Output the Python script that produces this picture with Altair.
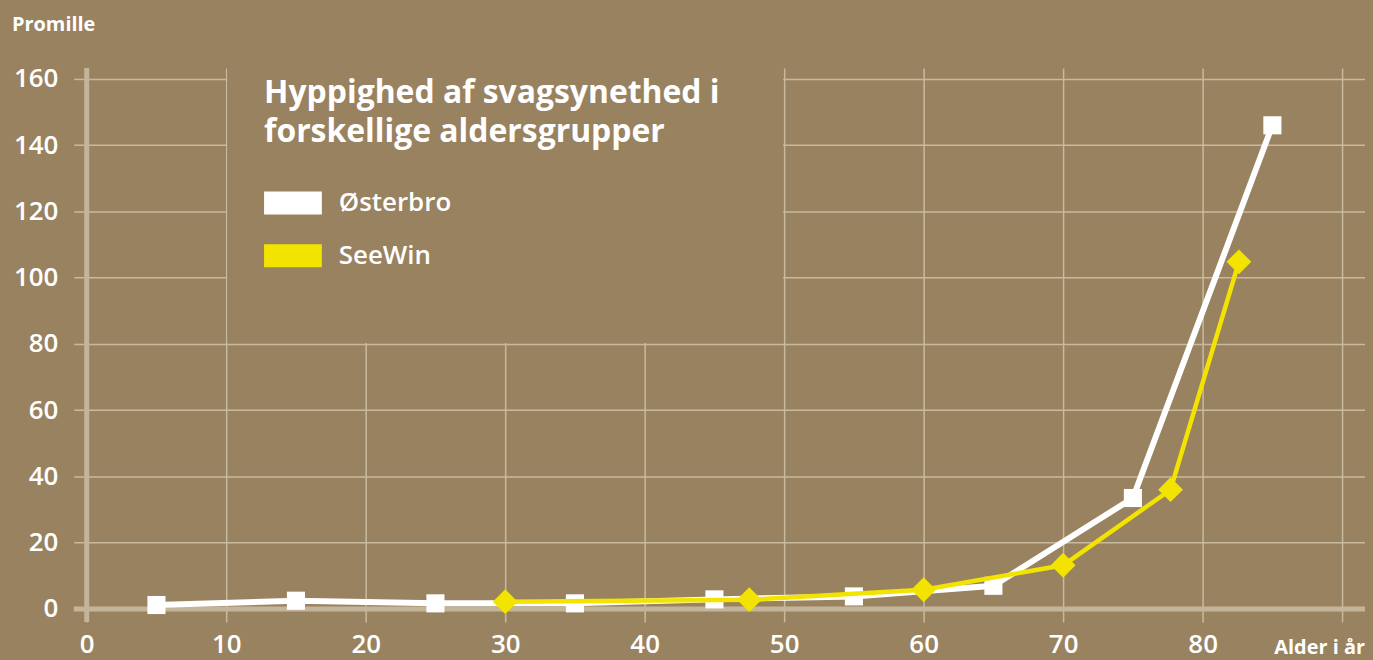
import altair as alt
import pandas as pd

# ---------------- data ----------------
ost_age = [5, 15, 25, 35, 45, 55, 65, 75, 85]
ost_val = [1.2, 2.5, 1.7, 1.7, 2.9, 3.8, 7.0, 33.5, 146]
see_age = [30, 47.5, 60, 70, 77.7, 82.6]
see_val = [2.2, 2.8, 5.8, 13.2, 36, 104.8]
series_names = ["Østerbro", "SeeWin"]
series_colors = ["#ffffff", "#f2e400"]
x_ticks = [0, 10, 20, 30, 40, 50, 60, 70, 80, 90]
y_ticks = [0, 20, 40, 60, 80, 100, 120, 140, 160]
title_lines = ["Hyppighed af svagsynethed i", "forskellige aldersgrupper"]
y_title = "Promille"
x_title = "Alder i år"

# ---------------- style ----------------
BG = "#99825f"
GRID = "#c8ba9f"
AXIS = "#c4b59a"
FONT = "Open Sans"
W, H = 1283, 543

df_ost = pd.DataFrame({"age": ost_age, "val": ost_val, "series": series_names[0]})
df_see = pd.DataFrame({"age": see_age, "val": see_val, "series": series_names[1]})

xs = alt.Scale(domain=[0, 91.64], nice=False, zero=False)
ys = alt.Scale(domain=[0, 163.3], nice=False, zero=False)

xaxis = alt.Axis(values=x_ticks, title=None, grid=True, gridColor=GRID, gridWidth=1.5,
                 domain=False, ticks=True, tickSize=13, tickColor=GRID, tickWidth=1.5,
                 labelColor="white", labelFont=FONT, labelFontSize=26, labelFontWeight=600,
                 labelPadding=10, labelFlush=False, labelOverlap=False,
                 labelExpr="datum.value >= 90 ? '' : datum.label")
yaxis = alt.Axis(values=y_ticks, title=None, grid=True, gridColor=GRID, gridWidth=1.5,
                 domain=False, ticks=True, tickSize=13, tickColor=GRID, tickWidth=1.5,
                 labelColor="white", labelFont=FONT, labelFontSize=26, labelFontWeight=600,
                 labelPadding=16, labelFlush=False, labelOverlap=False)

one = alt.Data(values=[{}])

# patch behind the title/legend that hides the grid there
patch = alt.Chart(one).mark_rect(color=BG).encode(
    x=alt.value(141), x2=alt.value(699), y=alt.value(0), y2=alt.value(276))

base_axis_x = alt.Chart(one).mark_rule(color=AXIS, strokeWidth=5).encode(
    x=alt.value(-13), x2=alt.value(W), y=alt.datum(0))
base_axis_y = alt.Chart(one).mark_rule(color=AXIS, strokeWidth=5).encode(
    x=alt.datum(0), y=alt.value(0), y2=alt.value(H + 13))

ost_base = alt.Chart(df_ost).encode(
    x=alt.X("age:Q", scale=xs, axis=xaxis),
    y=alt.Y("val:Q", scale=ys, axis=yaxis))
ost_line = ost_base.mark_line(color=series_colors[0], strokeWidth=6)
ost_pts = ost_base.mark_point(shape="square", filled=True, size=330, opacity=1,
                              color=series_colors[0])

see_base = alt.Chart(df_see).encode(x=alt.X("age:Q"), y=alt.Y("val:Q"))
see_line = see_base.mark_line(color=series_colors[1], strokeWidth=4.5)
see_pts = see_base.mark_point(shape="diamond", filled=True, size=620, opacity=1,
                              color=series_colors[1])

layers = [patch, base_axis_x, base_axis_y, ost_line, ost_pts, see_line, see_pts]

# title
for i, line in enumerate(title_lines):
    layers.append(alt.Chart(alt.Data(values=[{"t": line}])).mark_text(
        align="left", baseline="alphabetic", font=FONT, fontSize=32, fontWeight="bold",
        color="white").encode(text="t:N", x=alt.value(178), y=alt.value(35 + 39 * i)))

# legend
for i, (name, col) in enumerate(zip(series_names, series_colors)):
    layers.append(alt.Chart(one).mark_rect(color=col).encode(
        x=alt.value(178), x2=alt.value(236),
        y=alt.value(124 + 53 * i), y2=alt.value(147 + 53 * i)))
    layers.append(alt.Chart(alt.Data(values=[{"t": name}])).mark_text(
        align="left", baseline="alphabetic", font=FONT, fontSize=26, fontWeight=600,
        color="white").encode(text="t:N", x=alt.value(253), y=alt.value(144 + 53 * i)))

# axis titles
layers.append(alt.Chart(alt.Data(values=[{"t": y_title}])).mark_text(
    align="left", baseline="alphabetic", font=FONT, fontSize=20, fontWeight="bold",
    color="white").encode(text="t:N", x=alt.value(-75), y=alt.value(-37)))
layers.append(alt.Chart(alt.Data(values=[{"t": x_title}])).mark_text(
    align="right", baseline="alphabetic", font=FONT, fontSize=20, fontWeight="bold",
    color="white").encode(text="t:N", x=alt.value(W), y=alt.value(588)))

chart = alt.layer(*layers).properties(
    width=W, height=H,
    autosize=alt.AutoSizeParams(type="none"),
    padding={"left": 79, "top": 59, "right": 0, "bottom": 50},
    background=BG,
).configure_view(stroke=None)

try:
    import altair.utils.html as _ah
    _tpl = _ah.TEMPLATES["standard"]
    _orig_render = _tpl.render

    def _render(*a, **k):
        return _orig_render(*a, **k).replace(
            "</head>",
            "<style>html,body{background:#99825f;overflow:hidden}</style></head>", 1)

    _tpl.render = _render
except Exception:
    pass

chart.save("out.html", embed_options={"renderer": "svg", "actions": False})
